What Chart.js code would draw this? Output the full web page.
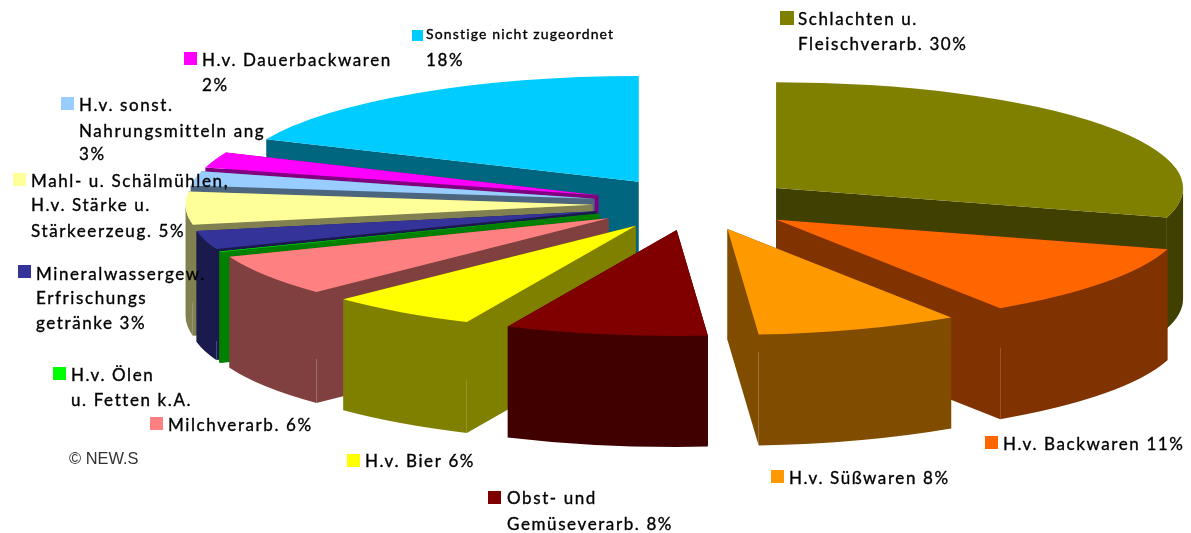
<!DOCTYPE html>
<html><head><meta charset="utf-8">
<style>html,body{margin:0;padding:0;background:#fff}canvas{display:block}</style>
<script src="https://cdn.jsdelivr.net/npm/chart.js@4/dist/chart.umd.min.js"></script>
</head><body><canvas id="c" width="1191" height="533"></canvas>
<script>
const categories = ["Schlachten u. Fleischverarb.","H.v. Backwaren","H.v. Süßwaren","Obst- und Gemüseverarb.","H.v. Bier","Milchverarb.","H.v. Ölen u. Fetten k.A.","Mineralwassergew. Erfrischungsgetränke","Mahl- u. Schälmühlen, H.v. Stärke u. Stärkeerzeug.","H.v. sonst. Nahrungsmitteln ang","H.v. Dauerbackwaren","Sonstige nicht zugeordnet"];
const values = [29.5,11.24,8.04,8.03,5.94,6.33,0.1,2.82,5,2.2,2.4,18.4];
const topColors = ["#808000","#FF6600","#FF9900","#800000","#FFFF00","#FF8080","#00FF00","#333399","#FFFF99","#99CCFF","#FF00FF","#00CCFF"];
const wallColors = ["#404000","#803300","#804D00","#400000","#808000","#804040","#008000","#1A1A4D","#808050","#4D6680","#800080","#006680"];
const labelLines = [["Schlachten u.","Fleischverarb. 30%"],["H.v. Backwaren 11%"],["H.v. Süßwaren 8%"],["Obst- und","Gemüseverarb. 8%"],["H.v. Bier 6%"],["Milchverarb. 6%"],["H.v. Ölen","u. Fetten k.A."],["Mineralwassergew.","Erfrischungs","getränke 3%"],["Mahl- u. Schälmühlen,","H.v. Stärke u.","Stärkeerzeug. 5%"],["H.v. sonst.","Nahrungsmitteln ang","3%"],["H.v. Dauerbackwaren","2%"],["Sonstige nicht zugeordnet","18%"]];

// layout (not data)
const CX=694.5, CY=204, SQUASH=0.26, RADIUS=407, EXPLODE=102, DEPTH=111;
const paintOrder=[0,1,2,11,10,9,8,7,6,5,4,3];
const labelBoxes=[
 {sx:780,sy:11,s:14,tx:798,b:[25,50]},
 {sx:985,sy:436,s:13,tx:1003,b:[450]},
 {sx:771,sy:470,s:13,tx:789,b:[484]},
 {sx:488,sy:491,s:13,tx:507,b:[504,530]},
 {sx:347,sy:454,s:13,tx:365,b:[467]},
 {sx:150,sy:417,s:13,tx:168,b:[431]},
 {sx:53,sy:367,s:13,tx:71,b:[381,406]},
 {sx:18,sy:265,s:13,tx:36,b:[280,304,329]},
 {sx:13,sy:173,s:13,tx:31,b:[187,211,237]},
 {sx:61,sy:97,s:13,tx:79,b:[111,137,160]},
 {sx:184,sy:52,s:13,tx:202,b:[66,91]},
 {sx:412,sy:30,s:11,tx:426,b:[39,66],small:true}
];

const pie3d={
 id:'pie3d',
 beforeDatasetDraw(chart,args){
  const ctx=chart.ctx, arcs=args.meta.data;
  paintOrder.forEach(i=>{
   const a=arcs[i];
   const {x,y,startAngle:s,endAngle:e,outerRadius:R}=a.getProps(['x','y','startAngle','endAngle','outerRadius'],true);
   const h=(s+e)/2, ox=Math.cos(h)*EXPLODE, oy=Math.sin(h)*EXPLODE;
   const tx=x+ox, ty=y+oy*SQUASH;
   const rim=t=>[tx+R*Math.cos(t), ty+R*SQUASH*Math.sin(t)];
   ctx.fillStyle=wallColors[i];
   const faces=[s,e].map(rim).sort((p,q)=>p[1]-q[1]);
   faces.forEach(p=>{
    ctx.beginPath();ctx.moveTo(tx,ty);ctx.lineTo(p[0],p[1]);ctx.lineTo(p[0],p[1]+DEPTH);ctx.lineTo(tx,ty+DEPTH);ctx.closePath();ctx.fill();
   });
   const f0=Math.max(s,0), f1=Math.min(e,Math.PI);
   if(f1>f0){
    ctx.beginPath();
    ctx.ellipse(tx,ty,R,R*SQUASH,0,f0,f1);
    ctx.ellipse(tx,ty+DEPTH,R,R*SQUASH,0,f1,f0,true);
    ctx.closePath();ctx.fill();
   }
   ctx.save();
   ctx.translate(tx,ty);ctx.scale(1,SQUASH);ctx.translate(-x,-y);
   a.draw(ctx);
   ctx.restore();
  });
  return false;
 },
 afterDraw(chart){
  const ctx=chart.ctx;
  ctx.save();
  ctx.textBaseline='alphabetic';ctx.textAlign='left';
  labelBoxes.forEach((l,i)=>{
   ctx.fillStyle=topColors[i];
   ctx.fillRect(l.sx,l.sy,l.s,l.s);
   ctx.fillStyle='#000';ctx.strokeStyle='#000';ctx.lineWidth=0.35;
   labelLines[i].forEach((t,j)=>{
    const small=l.small&&j===0;
    ctx.font=(small?'14px':'17px')+' Lato';
    ctx.letterSpacing=small?'1.15px':'1.6px';
    ctx.fillText(t,l.tx,l.b[j]);
    ctx.strokeText(t,l.tx,l.b[j]);
   });
  });
  ctx.letterSpacing='0px';
  ctx.font='16.4px "Liberation Sans"';
  ctx.fillStyle='#333';
  ctx.fillText('© NEW.S',69,464);
  ctx.restore();
 }
};

new Chart(document.getElementById('c'),{
 type:'pie',
 data:{labels:categories,datasets:[{data:values,backgroundColor:topColors,borderWidth:0}]},
 options:{
  responsive:false,animation:false,devicePixelRatio:1,radius:RADIUS,
  layout:{padding:{left:2*CX-1191,right:0,top:0,bottom:533-2*CY}},
  plugins:{legend:{display:false},tooltip:{enabled:false},title:{display:false}}
 },
 plugins:[pie3d]
});
</script></body></html>
